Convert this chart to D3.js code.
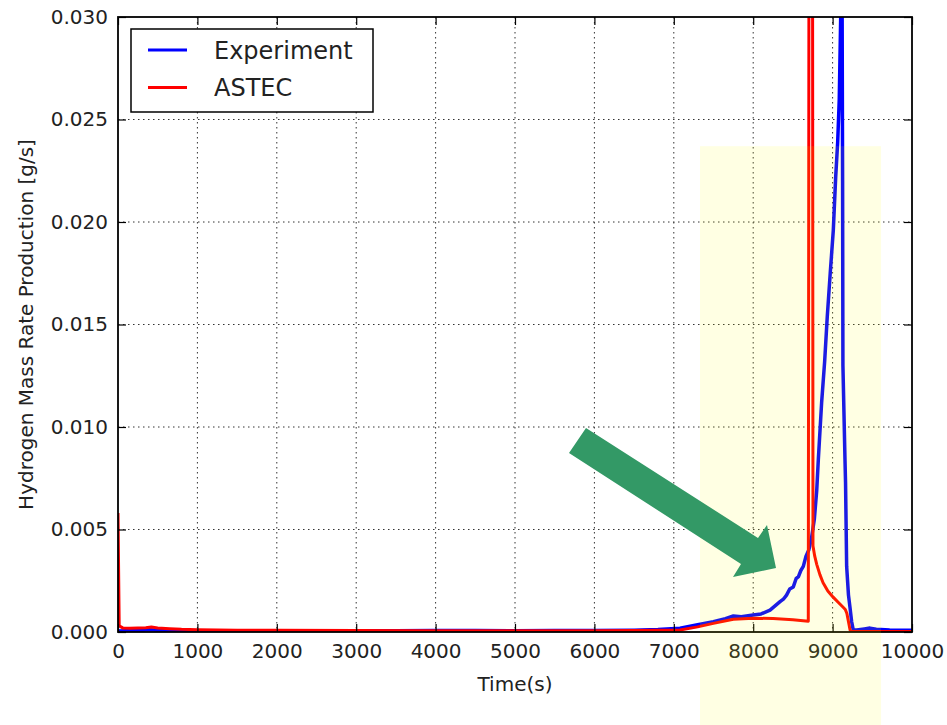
<!DOCTYPE html>
<html>
<head>
<meta charset="utf-8">
<script src="https://cdn.jsdelivr.net/npm/d3@7"></script>
<style>
  body { margin:0; background:#fff; }
  text { font-family:"DejaVu Sans", sans-serif; fill:#222; }
</style>
</head>
<body>
<div id="graph"></div>
<script>
// Experiment (blue) - time in s, rate in g/s
var expTime = [0, 100, 250, 400, 550, 800, 1000, 1500, 2000, 2500, 3000, 3500, 4000, 4500, 5000, 5500, 6000, 6500, 6800,
    7078, 7300, 7498, 7650, 7750, 7850, 8000, 8100, 8212, 8338, 8380, 8420, 8460, 8505, 8540, 8570, 8600, 8631, 8665,
    8700, 8735, 8770, 8800, 8820,
    8862, 8900, 8933, 8970, 9009, 9039, 9064, 9084, 9102, 9118, 9126, 9130, 9143, 9156, 9163, 9177, 9200, 9219, 9240,
    9260, 9303, 9400, 9471, 9550, 9718, 9850, 10000];
var expRate = [0.00005, 0.00006, 0.00007, 0.00011, 0.00007, 0.00005, 0.00004, 0.00004, 0.00005, 0.00004, 0.00006, 0.00006,
    0.00007, 0.00007, 0.00006, 0.00007, 0.00007, 0.00009, 0.00012,
    0.00018, 0.00035, 0.0005, 0.00065, 0.00078, 0.00074, 0.00083, 0.00088, 0.00107, 0.00148, 0.0016, 0.0018, 0.0021,
    0.0022, 0.0026, 0.0027, 0.0030, 0.0032, 0.0037,
    0.0040, 0.0046, 0.0055, 0.0069, 0.0084,
    0.0112, 0.0132, 0.0154, 0.0175, 0.0196, 0.0222, 0.0239, 0.0260, 0.0300, 0.0330, 0.0220, 0.0130, 0.0107, 0.0084,
    0.0073, 0.0032, 0.0018, 0.0012, 0.0005,
    0.0001, 0.0001, 0.00015, 0.00019, 0.00014, 0.0001, 0.00009, 0.00008];

// ASTEC (red)
var astecTime = [0, 15, 60, 150, 250, 350, 420, 500, 650, 800, 1000, 1500, 2000, 3000, 4000, 5000, 6000, 6500,
    7078, 7300, 7498, 7750, 8001, 8250, 8500, 8694, 8703, 8747, 8753, 8775, 8800, 8840, 8880, 8940, 9007, 9070,
    9130, 9160, 9180, 9200, 9220, 9240, 9500, 10000];
var astecRate = [0.0058, 0.0003, 0.0002, 0.00018, 0.0002, 0.00021, 0.00024, 0.0002, 0.00016, 0.00013, 0.00011,
    0.00009, 0.00008, 0.00007, 0.00006, 0.00006, 0.00006, 0.00007,
    0.0001, 0.00025, 0.00042, 0.00062, 0.00067, 0.00066, 0.0006, 0.00053, 0.036, 0.036, 0.0042, 0.0037, 0.0033,
    0.0028, 0.0024, 0.0020, 0.0017, 0.00145,
    0.00122, 0.0011, 0.0009, 0.0005, 0.0001, 0.00002, 0.00002, 0.00002];

var xTicks = [0, 1000, 2000, 3000, 4000, 5000, 6000, 7000, 8000, 9000, 10000];
var yTicks = [0, 0.005, 0.010, 0.015, 0.020, 0.025, 0.030];
var seriesNames = ["Experiment", "ASTEC"];
var seriesColors = ["#0000ff", "#ff0000"];

// highlighted zone (time range, top rate) and arrow (pixels)
var zoneTime = [7330, 9610];
var zoneTop = 0.0237;
var arrowPts = [[586, 428], [758, 538], [767, 525], [776, 568], [733, 577], [741, 564], [569, 453]];

var margin      = {top:17, left:118},
    true_width  = 947,
    true_height = 725,
    width       = 794,
    height      = 615;

var x = d3.scaleLinear().domain([0, 10000]).range([0, width]);
var y = d3.scaleLinear().domain([0, 0.030]).range([height, 0]);

var svg = d3.select("#graph").append("svg")
    .attr("width", true_width)
    .attr("height", true_height);

var g = svg.append("g")
    .attr("transform", "translate(" + margin.left + "," + margin.top + ")");

g.append("clipPath").attr("id", "clip")
  .append("rect").attr("width", width).attr("height", height);

// dotted grid
g.selectAll(".gx").data(xTicks.slice(1, -1)).enter().append("line")
    .attr("x1", x).attr("x2", x).attr("y1", 0).attr("y2", height)
    .attr("stroke", "#333").attr("stroke-width", 1).attr("stroke-dasharray", "1.5,3.5");
g.selectAll(".gy").data(yTicks.slice(1, -1)).enter().append("line")
    .attr("y1", y).attr("y2", y).attr("x1", 0).attr("x2", width)
    .attr("stroke", "#333").attr("stroke-width", 1).attr("stroke-dasharray", "1.5,3.5");

function toPoints(ts, vs) {
    return ts.map(function(t, i) { return [t, vs[i]]; });
}

var line = d3.line()
    .x(function(d) { return x(d[0]); })
    .y(function(d) { return y(d[1]); });

var series = [toPoints(expTime, expRate), toPoints(astecTime, astecRate)];

g.append("g").attr("clip-path", "url(#clip)")
  .selectAll("path").data(series).enter().append("path")
    .attr("d", line)
    .attr("fill", "none")
    .attr("stroke", function(d, i) { return seriesColors[i]; })
    .attr("stroke-width", function(d, i) { return i == 0 ? 3.5 : 3; })
    .attr("stroke-linejoin", "round");

// axes, ticks pointing inwards on all four sides
var fmtY = d3.format(".3f");
var xAxis = g.append("g").attr("transform", "translate(0," + height + ")")
    .call(d3.axisBottom(x).tickValues(xTicks).tickSize(-8).tickPadding(12).tickFormat(d3.format("d")));
var yAxis = g.append("g")
    .call(d3.axisLeft(y).tickValues(yTicks).tickSize(-8).tickPadding(10).tickFormat(fmtY));
var topAxis = g.append("g")
    .call(d3.axisTop(x).tickValues(xTicks).tickSize(-8).tickFormat(""));
var rightAxis = g.append("g").attr("transform", "translate(" + width + ",0)")
    .call(d3.axisRight(y).tickValues(yTicks).tickSize(-8).tickFormat(""));

[xAxis, yAxis, topAxis, rightAxis].forEach(function(a) {
    a.select(".domain").remove();
    a.selectAll("line").attr("stroke", "#000").attr("stroke-width", 1.2);
    a.selectAll("text").attr("font-size", 20).attr("font-family", "DejaVu Sans").attr("fill", "#222");
});

g.append("rect")
    .attr("width", width).attr("height", height)
    .attr("fill", "none").attr("stroke", "#000").attr("stroke-width", 1.8);

// axis labels
svg.append("text")
    .attr("x", margin.left + width / 2).attr("y", 691)
    .attr("text-anchor", "middle").attr("font-size", 20)
    .text("Time(s)");
svg.append("text")
    .attr("transform", "translate(33," + (margin.top + height / 2) + ") rotate(-90)")
    .attr("text-anchor", "middle").attr("font-size", 20)
    .text("Hydrogen Mass Rate Production [g/s]");

// legend
var legend = svg.append("g");
legend.append("rect")
    .attr("x", 131).attr("y", 29).attr("width", 242).attr("height", 83)
    .attr("fill", "#fff").attr("stroke", "#000").attr("stroke-width", 1.5);
seriesNames.forEach(function(name, i) {
    var ly = 50 + i * 37.5;
    legend.append("line")
        .attr("x1", 148).attr("x2", 187).attr("y1", ly).attr("y2", ly)
        .attr("stroke", seriesColors[i]).attr("stroke-width", 3);
    legend.append("text")
        .attr("x", 214).attr("y", ly + 8.5)
        .attr("font-size", 24)
        .text(name);
});

// pale yellow highlight laid over everything
svg.append("rect")
    .attr("x", margin.left + x(zoneTime[0]))
    .attr("y", margin.top + y(zoneTop))
    .attr("width", x(zoneTime[1]) - x(zoneTime[0]))
    .attr("height", true_height - margin.top - y(zoneTop))
    .attr("fill", "#ffff00").attr("fill-opacity", 0.11);

// green arrow
svg.append("path")
    .attr("d", d3.line()(arrowPts) + "Z")
    .attr("fill", "#339966");
</script>
</body>
</html>
